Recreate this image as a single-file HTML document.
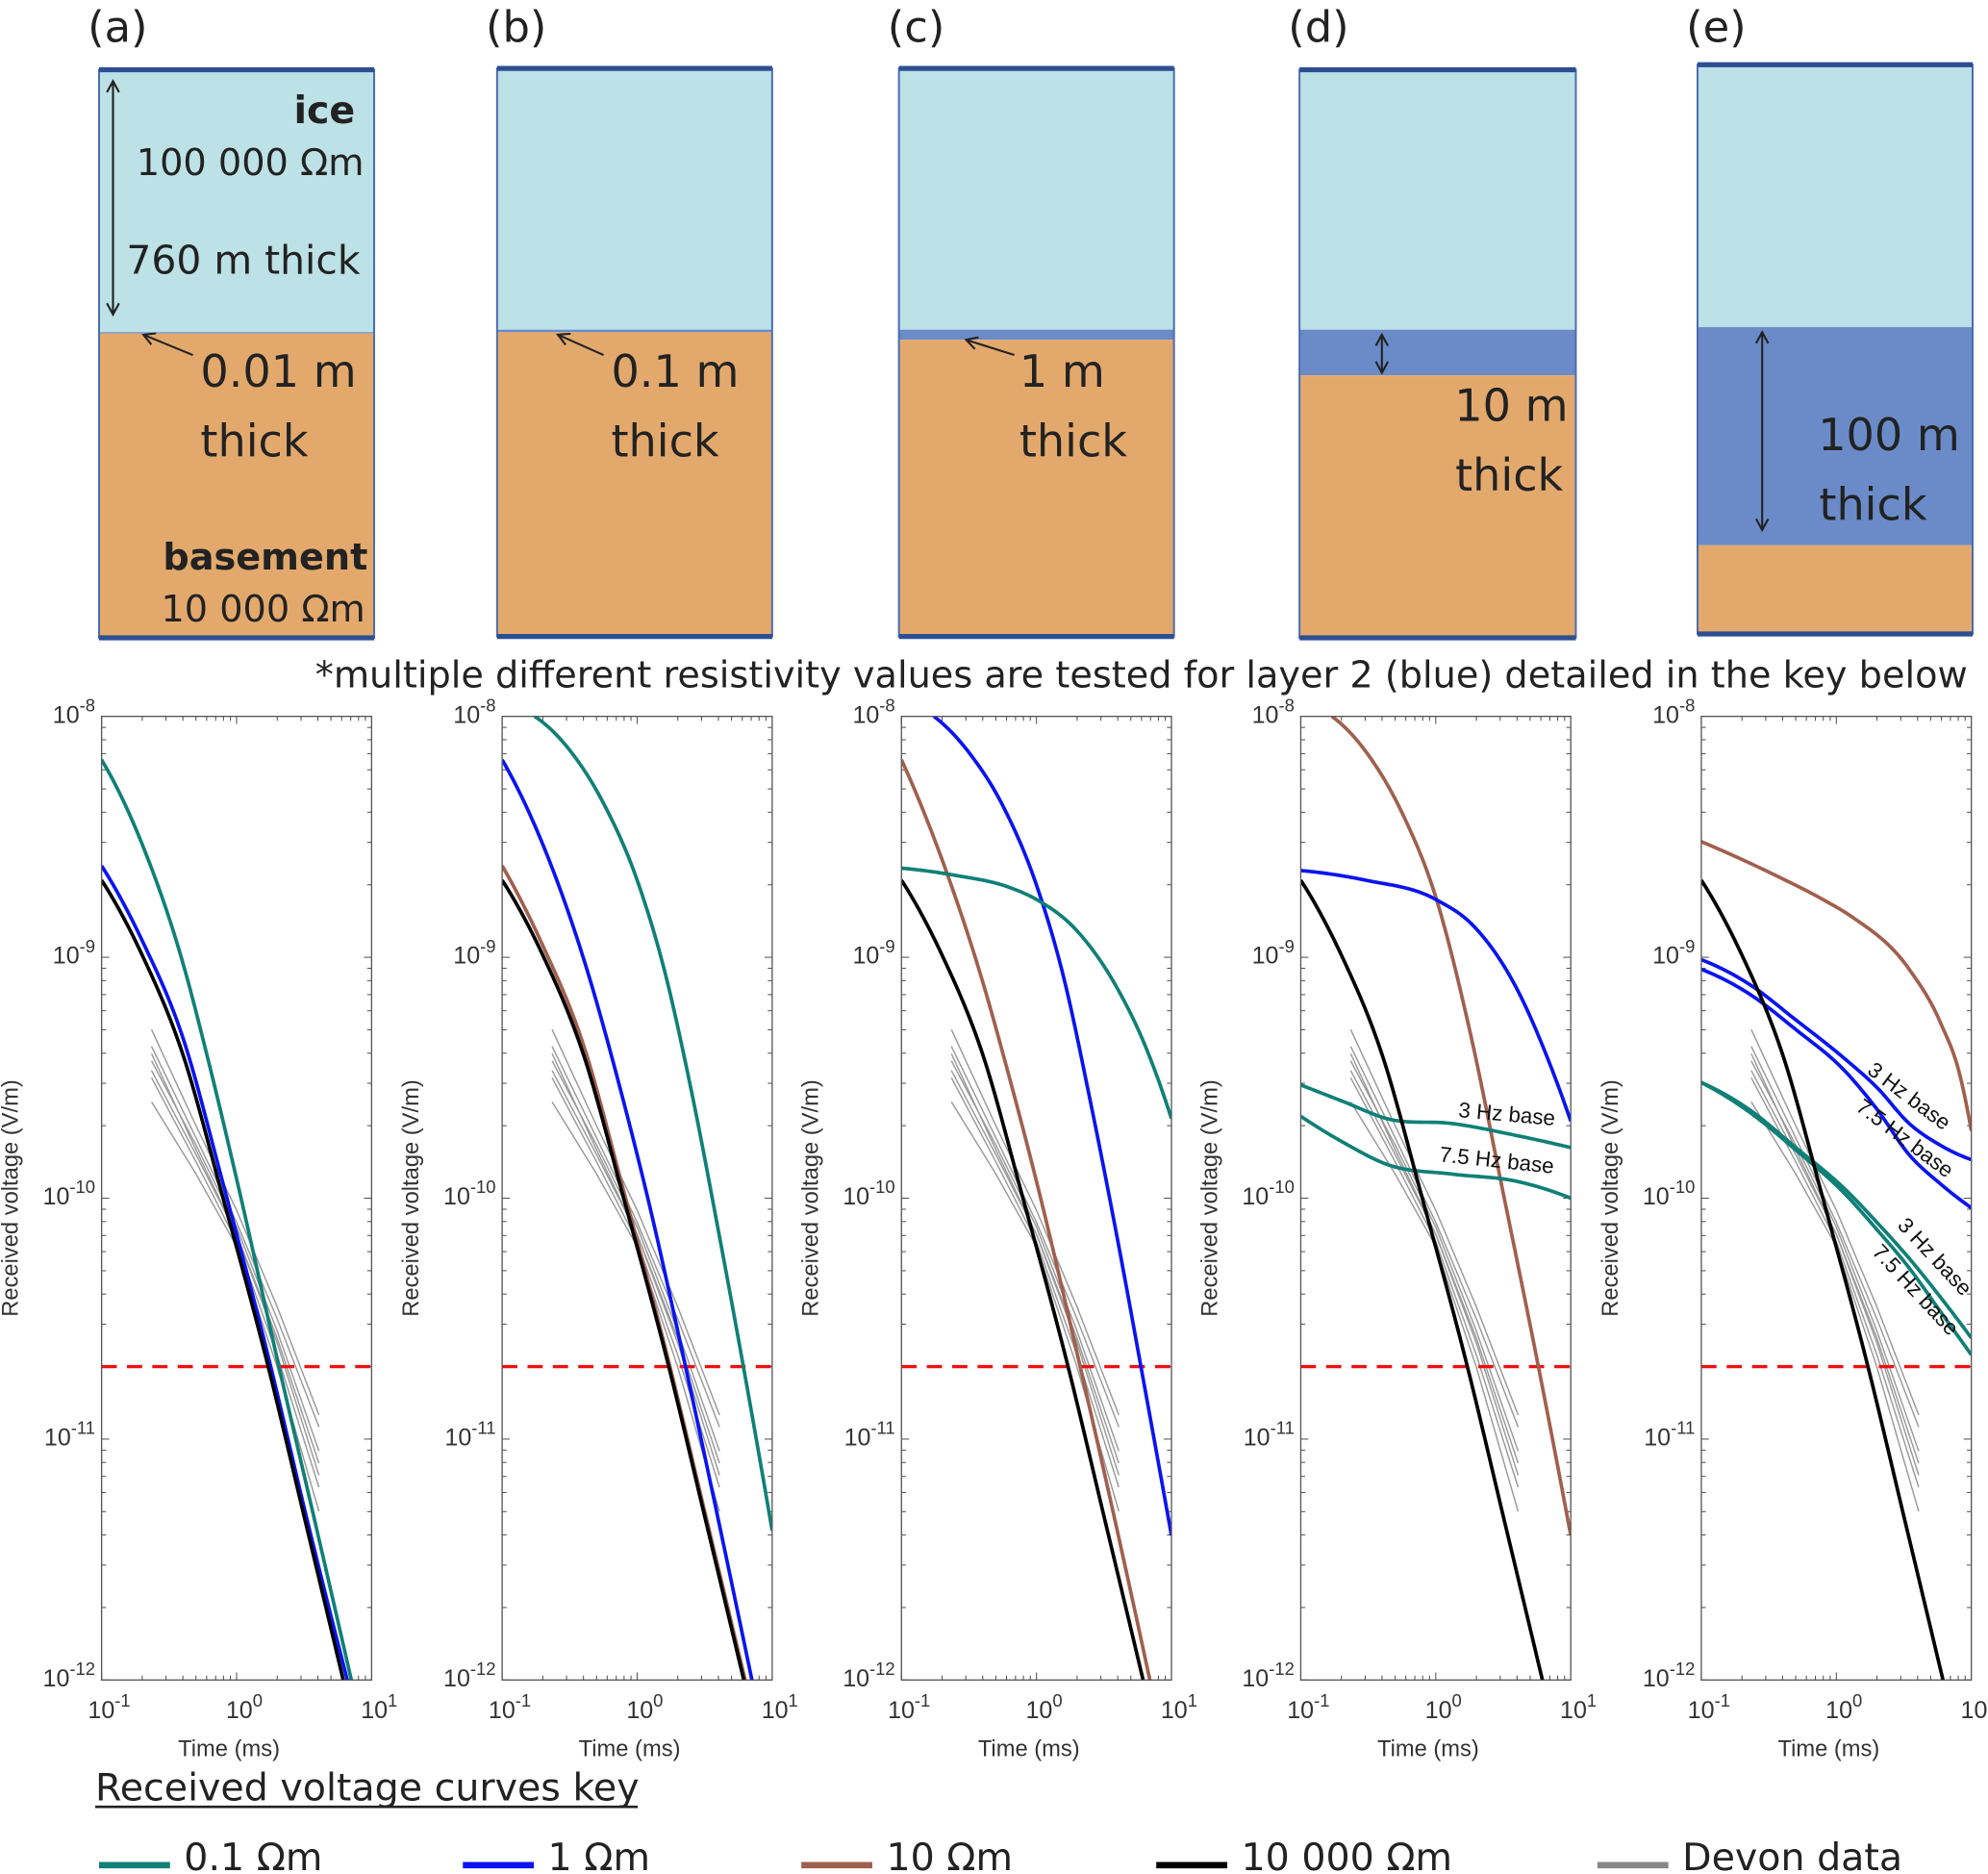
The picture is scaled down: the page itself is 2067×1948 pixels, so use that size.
<!DOCTYPE html>
<html><head><meta charset="utf-8"><style>
html,body{margin:0;padding:0;background:#fff;}
svg{display:block;}
text{font-family:"Liberation Sans",sans-serif;}
.cal{font-family:"DejaVu Sans","Liberation Sans",sans-serif;}
</style></head><body>
<svg id="fig" width="2067" height="1948" viewBox="0 0 1568 1478" xmlns="http://www.w3.org/2000/svg">
<g id="models"></g>
<text class="cal" x="1552" y="542" font-size="29" text-anchor="end" fill="#222">*multiple different resistivity values are tested for layer 2 (blue) detailed in the key below</text>
<g id="plots"></g>
<g id="legend">
<text class="cal" x="75" y="1420" font-size="30" fill="#222">Received voltage curves key</text>
<line x1="75" y1="1425" x2="503" y2="1425" stroke="#222" stroke-width="2"/>
</g>
</svg>
<script>
// ---- data (log10 units: [log10 time(ms), log10 voltage(V/m)]) ----
const xTickExps = [-1, 0, 1];
const yTickExps = [-8, -9, -10, -11, -12];
const dashedLevel = Math.log10(2e-11);
const panelLabels = ['(a)', '(b)', '(c)', '(d)', '(e)'];
const blackCurve = [[-1,-8.68],[-0.7,-8.99],[-0.4,-9.4],[-0.1,-10],[0.23,-10.69],[0.5,-11.32],[0.79,-12]];
const devonT = [-0.63, -0.3, 0, 0.3, 0.61];
const devon1 = [-9.3, -9.7, -10.05, -10.45, -10.9];
const devon2 = [-9.37, -9.75, -10.1, -10.5, -10.95];
const devon3 = [-9.43, -9.78, -10.12, -10.55, -11.05];
const devon4 = [-9.47, -9.82, -10.15, -10.6, -11.15];
const devon5 = [-9.5, -9.85, -10.18, -10.65, -11.2];
const devon6 = [-9.6, -9.9, -10.2, -10.7, -11.3];
const devon7 = [-9.4, -9.8, -10.15, -10.58, -11.1];
const aTeal = [[-1,-8.18],[-0.7,-8.53],[-0.41,-9],[-0.2,-9.45],[0,-9.92],[0.31,-10.69],[0.6,-11.39],[0.85,-12]];
const aBlue = [[-1,-8.62],[-0.7,-8.93],[-0.4,-9.33],[-0.1,-9.94],[0.24,-10.67],[0.52,-11.33],[0.82,-12]];
const bTeal = [[-0.76,-8],[-0.5,-8.14],[-0.25,-8.36],[0,-8.68],[0.2,-9.05],[0.4,-9.55],[0.6,-10.13],[0.8,-10.74],[1,-11.38]];
const bBlue = [[-1,-8.18],[-0.7,-8.53],[-0.4,-9.0],[-0.1,-9.6],[0.1,-10.05],[0.3,-10.55],[0.55,-11.2],[0.85,-12]];
const bBrown = [[-1,-8.62],[-0.7,-8.95],[-0.4,-9.36],[-0.1,-9.97],[0.23,-10.67],[0.5,-11.3],[0.8,-12]];
const cBlue = [[-0.76,-8],[-0.5,-8.15],[-0.25,-8.37],[0,-8.7],[0.2,-9.08],[0.4,-9.6],[0.6,-10.17],[0.8,-10.78],[1,-11.4]];
const cBrown = [[-1,-8.18],[-0.67,-8.64],[-0.41,-9.08],[-0.2,-9.5],[0,-9.93],[0.32,-10.69],[0.84,-12]];
const cTeal = [[-1,-8.63],[-0.6,-8.66],[-0.2,-8.71],[0,-8.76],[0.3,-8.89],[0.6,-9.13],[0.8,-9.36],[1,-9.67]];
const dBrown = [[-0.77,-8],[-0.5,-8.16],[-0.25,-8.4],[0,-8.75],[0.25,-9.3],[0.5,-9.98],[0.75,-10.67],[1,-11.4]];
const dBlue = [[-1,-8.64],[-0.52,-8.68],[0,-8.76],[0.28,-8.87],[0.6,-9.13],[0.85,-9.45],[1,-9.68]];
const dTeal3 = [[-1,-9.53],[-0.68,-9.6],[-0.36,-9.67],[0.12,-9.69],[0.6,-9.74],[1,-9.79]];
const dTeal75 = [[-1,-9.66],[-0.68,-9.77],[-0.36,-9.86],[0.12,-9.9],[0.6,-9.93],[1,-10]];
const eBrown = [[-1,-8.52],[-0.45,-8.66],[-0.1,-8.76],[0.11,-8.83],[0.54,-9.05],[0.77,-9.27],[0.92,-9.5],[1,-9.72]];
const eBlue3 = [[-1,-9.01],[-0.65,-9.11],[-0.3,-9.26],[0.06,-9.42],[0.3,-9.54],[0.54,-9.69],[0.77,-9.78],[1,-9.84]];
const eBlue75 = [[-1,-9.05],[-0.65,-9.15],[-0.3,-9.3],[0.06,-9.47],[0.3,-9.63],[0.54,-9.82],[0.77,-9.94],[1,-10.04]];
const eTeal3 = [[-1,-9.52],[-0.65,-9.63],[-0.3,-9.79],[0.06,-9.96],[0.3,-10.1],[0.54,-10.25],[0.77,-10.41],[1,-10.58]];
const eTeal75 = [[-1,-9.52],[-0.65,-9.64],[-0.3,-9.8],[0.06,-9.98],[0.3,-10.13],[0.54,-10.29],[0.77,-10.47],[1,-10.65]];
const legendLabels = ['0.1 Ωm', '1 Ωm', '10 Ωm', '10 000 Ωm', 'Devon data'];

// ---- layout ----
const NS = 'http://www.w3.org/2000/svg';
const TEAL='#108077', BLUE='#0a14f0', BROWN='#a0604e', BLACK='#000';
const plotX0 = [80, 396, 711, 1026, 1342];
const plotW = 213, plotTop = 565, plotBot = 1325;
function mk(tag, attrs, parent){ const e=document.createElementNS(NS,tag); for(const k in attrs) e.setAttribute(k,attrs[k]); parent.appendChild(e); return e; }
function xScale(i, lt){ return plotX0[i] + (lt + 1) / 2 * plotW; }
function yScale(lv){ return plotTop + (-8 - lv) / 4 * (plotBot - plotTop); }
function smoothFn(xs, ys){
  const n=xs.length, d=[], h=[], m=new Array(n);
  for(let k=0;k<n-1;k++){ h.push(xs[k+1]-xs[k]); d.push((ys[k+1]-ys[k])/h[k]); }
  for(let k=1;k<n-1;k++) m[k]=(h[k]*d[k-1]+h[k-1]*d[k])/(h[k-1]+h[k]);
  m[0]= n>2 ? 2*d[0]-m[1] : d[0];
  m[n-1]= n>2 ? 2*d[n-2]-m[n-2] : d[n-2];
  if(m[0]*d[0]<0) m[0]=d[0]; if(m[n-1]*d[n-2]<0) m[n-1]=d[n-2];
  return function(x){ let k=0; while(k<n-2 && x>xs[k+1]) k++;
    const hh=h[k], t=(x-xs[k])/hh, t2=t*t, t3=t2*t;
    return (2*t3-3*t2+1)*ys[k]+(t3-2*t2+t)*hh*m[k]+(-2*t3+3*t2)*ys[k+1]+(t3-t2)*hh*m[k+1]; };
}
function curvePath(i, xs, ys){
  const f=smoothFn(xs,ys); let d=''; const N=150;
  for(let s=0;s<=N;s++){ const x=xs[0]+(xs[xs.length-1]-xs[0])*s/N;
    d += (s?' L':'M') + xScale(i,x).toFixed(2) + ',' + yScale(f(x)).toFixed(2); }
  return d;
}

// ---- layer models ----
const models = document.getElementById('models');
const boxes = [
  {x:78,y:55,w:217,b:503,l1:262,l2:263},
  {x:392,y:54,w:217,b:502,l1:260,l2:262},
  {x:709,y:54,w:217,b:502,l1:260,l2:268},
  {x:1025,y:55,w:218,b:503,l1:260,l2:296},
  {x:1339,y:51,w:217,b:500,l1:258,l2:430}
];
boxes.forEach((bx,i)=>{
  const g = mk('g',{},models);
  
  
  const lab = mk('text',{x:bx.x-9,y:33,'font-size':34,fill:'#222',class:'cal'},g);
  
  
  lab.textContent = panelLabels[i];
  const ice = mk('rect',{x:bx.x,y:bx.y,width:bx.w,height:bx.l1-bx.y,fill:'#bce1e6'},g);
  
  
  const lay = mk('rect',{x:bx.x,y:bx.l1,width:bx.w,height:bx.l2-bx.l1,fill:'#6a8bc8'},g);
  
  
  const bas = mk('rect',{x:bx.x,y:bx.l2,width:bx.w,height:bx.b-bx.l2,fill:'#e3a96c'},g);
  
  
  const fr = mk('rect',{x:bx.x,y:bx.y,width:bx.w,height:bx.b-bx.y,fill:'none',stroke:'#4a6cb0','stroke-width':1.5},g);
  
  
  mk('line',{x1:bx.x,y1:bx.y,x2:bx.x+bx.w,y2:bx.y,stroke:'#2d4f92','stroke-width':4},g);
  mk('line',{x1:bx.x,y1:bx.b,x2:bx.x+bx.w,y2:bx.b,stroke:'#2d4f92','stroke-width':4},g);
});
function txt(x,y,s,size,anchor,weight){ const t=mk('text',{x:x,y:y,'font-size':size,'text-anchor':anchor||'start',fill:'#222',class:'cal','font-weight':weight||'normal'},models); t.textContent=s;   return t; }
function arrowLine(x1,y1,x2,y2,both){
  const g=mk('g',{stroke:'#222','stroke-width':1.6,fill:'none'},models);
  
  
  mk('line',{x1:x1,y1:y1,x2:x2,y2:y2},g);
  const head=(xa,ya,xb,yb)=>{const a=Math.atan2(yb-ya,xb-xa),L=10;
    mk('polyline',{points:(xb-L*Math.cos(a-0.5))+','+(yb-L*Math.sin(a-0.5))+' '+xb+','+yb+' '+(xb-L*Math.cos(a+0.5))+','+(yb-L*Math.sin(a+0.5))},g);};
  head(x1,y1,x2,y2); if(both) head(x2,y2,x1,y1);
}
txt(280,97,'ice',30,'end','bold');
txt(287,138,'100 000 Ωm',29,'end');
txt(284,216,'760 m thick',31,'end');
arrowLine(89,64,89,248,true);
txt(158,305,'0.01 m',35);
txt(158,360,'thick',35);
arrowLine(152,280,113,264,false);
txt(290,449,'basement',29,'end','bold');
txt(288,490,'10 000 Ωm',29,'end');
txt(482,305,'0.1 m',35); txt(482,360,'thick',35); arrowLine(476,280,440,264,false);
txt(804,305,'1 m',35); txt(804,360,'thick',35); arrowLine(800,280,762,268,false);
arrowLine(1090,264,1090,294,true);
txt(1237,332,'10 m',35,'end'); txt(1233,387,'thick',35,'end');
arrowLine(1390,262,1390,418,true);
txt(1546,355,'100 m',35,'end'); txt(1520,410,'thick',35,'end');

// ---- plots ----
const plots = document.getElementById('plots');
const panelSeries = [
  [[aTeal,TEAL],[aBlue,BLUE]],
  [[bTeal,TEAL],[bBlue,BLUE],[bBrown,BROWN]],
  [[cBlue,BLUE],[cBrown,BROWN],[cTeal,TEAL]],
  [[dBrown,BROWN],[dBlue,BLUE],[dTeal3,TEAL],[dTeal75,TEAL]],
  [[eBrown,BROWN],[eBlue3,BLUE],[eBlue75,BLUE],[eTeal3,TEAL],[eTeal75,TEAL]]
];
const devonAll = [devon1,devon2,devon3,devon4,devon5,devon6,devon7];
for(let i=0;i<5;i++){
  const g = mk('g',{},plots);
  
  
  const clip = mk('clipPath',{id:'clip'+i},g);
  mk('rect',{x:plotX0[i],y:plotTop,width:plotW,height:plotBot-plotTop},clip);
  const x0=plotX0[i], x1=x0+plotW;
  const tg = mk('g',{stroke:'#555','stroke-width':0.8},g);
  
  
  for(let dec=-12;dec<-8;dec++){ for(let m=1;m<10;m++){ const y=yScale(dec+Math.log10(m)); const L=m==1?6:3.5;
    mk('line',{x1:x0,y1:y,x2:x0+L,y2:y},tg); mk('line',{x1:x1,y1:y,x2:x1-L,y2:y},tg);} }
  for(let dec=-1;dec<1;dec++){ for(let m=1;m<10;m++){ const x=xScale(i,dec+Math.log10(m)); const L=m==1?6:3.5;
    mk('line',{x1:x,y1:plotTop,x2:x,y2:plotTop+L},tg); mk('line',{x1:x,y1:plotBot,x2:x,y2:plotBot-L},tg);} }
  yTickExps.forEach(e=>{ const t=mk('text',{x:x0-5,y:yScale(e)+5,'font-size':19,'text-anchor':'end',fill:'#333'},g);
     
    t.innerHTML='10<tspan dy="-9" font-size="14">'+e+'</tspan>'; });
  xTickExps.forEach(e=>{ const t=mk('text',{x:xScale(i,e)+6,y:plotBot+30,'font-size':19,'text-anchor':'middle',fill:'#333'},g);
     
    t.innerHTML='10<tspan dy="-9" font-size="14">'+e+'</tspan>'; });
  const xt=mk('text',{x:x0+plotW/2-6,y:plotBot+60,'font-size':18,'text-anchor':'middle',fill:'#333'},g);
    xt.textContent='Time (ms)';
  const yt=mk('text',{x:0,y:0,'font-size':18,'text-anchor':'middle',fill:'#333',transform:'translate('+(x0-66)+','+((plotTop+plotBot)/2)+') rotate(-90)'},g);
    yt.textContent='Received voltage (V/m)';
  const cg = mk('g',{'clip-path':'url(#clip'+i+')',fill:'none'},g);
  devonAll.forEach(arr=>{ const pts=arr.map((v,k)=>xScale(i,devonT[k]).toFixed(2)+','+yScale(v).toFixed(2));
    const p=mk('polyline',{points:pts.join(' '),stroke:'#999','stroke-width':1.1},cg);
      });
  const dl=mk('line',{x1:x0,y1:yScale(dashedLevel),x2:x1,y2:yScale(dashedLevel),stroke:'#f01010','stroke-width':2.5,'stroke-dasharray':'12,8'},cg);
   
  const series = panelSeries[i].concat([[blackCurve,BLACK]]);
  series.forEach(s=>{ const xs=s[0].map(p=>p[0]), ys=s[0].map(p=>p[1]);
    const p=mk('path',{d:curvePath(i,xs,ys),stroke:s[1],'stroke-width':2.8,'stroke-linejoin':'round'},cg);
      });
  const fr=mk('rect',{x:x0,y:plotTop,width:plotW,height:plotBot-plotTop,fill:'none',stroke:'#555','stroke-width':1},g);
   
}
function curveLabel(x,y,rot,s){ const t=mk('text',{x:x,y:y,'font-size':17,fill:'#111',transform:'rotate('+rot+' '+x+' '+y+')'},plots);
    t.textContent=s; }
curveLabel(1150,881,5,'3 Hz base');
curveLabel(1135,916,6,'7.5 Hz base');
curveLabel(1472,846,37,'3 Hz base');
curveLabel(1463,875,37,'7.5 Hz base');
curveLabel(1496,967,47,'3 Hz base');
curveLabel(1476,988,47,'7.5 Hz base');

// ---- legend ----
const legend = document.getElementById('legend');
const legX = [78, 365, 632, 912, 1260];
const legC = [TEAL, BLUE, BROWN, BLACK, '#888'];
legendLabels.forEach((s,k)=>{
  const g=mk('g',{},legend);
  
  
  mk('line',{x1:legX[k],y1:1471,x2:legX[k]+56,y2:1471,stroke:legC[k],'stroke-width':5},g);
  const t=mk('text',{x:legX[k]+67,y:1475,'font-size':30,fill:'#222',class:'cal'},g);
  t.textContent=s;
});
</script>
</body></html>
